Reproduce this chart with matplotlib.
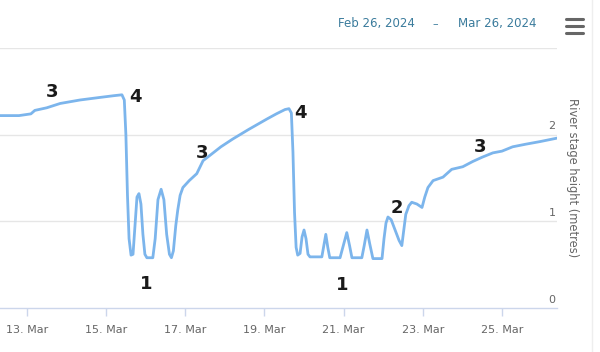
import matplotlib
matplotlib.use("Agg")
import matplotlib.pyplot as plt
import matplotlib.dates as mdates
import pandas as pd
from matplotlib.lines import Line2D

# Day of March 2024 (fractional) and river stage (metres)
days = [12.32, 12.80, 13.10, 13.20, 13.50, 13.84, 14.34, 14.85, 15.20, 15.40,
        15.46, 15.50, 15.54, 15.58, 15.63, 15.68, 15.73, 15.78, 15.83, 15.88,
        15.93, 15.98, 16.03, 16.18, 16.24, 16.31, 16.39, 16.46, 16.53, 16.60,
        16.65, 16.70, 16.76, 16.81, 16.87, 16.94, 17.10, 17.29, 17.45, 17.62,
        17.90, 18.20, 18.60, 19.06, 19.30, 19.52, 19.62, 19.68, 19.72, 19.76,
        19.80, 19.84, 19.90, 19.95, 20.00, 20.05, 20.10, 20.15, 20.45, 20.50,
        20.55, 20.60, 20.65, 20.91, 20.98, 21.08, 21.15, 21.21, 21.46, 21.52,
        21.59, 21.66, 21.74, 21.97, 22.02, 22.07, 22.12, 22.20, 22.30, 22.40,
        22.47, 22.52, 22.57, 22.65, 22.72, 22.85, 22.98, 23.05, 23.13, 23.26,
        23.51, 23.73, 24.01, 24.26, 24.50, 24.77, 25.00, 25.27, 25.60, 25.96,
        26.39]
stage = [2.22, 2.22, 2.24, 2.28, 2.31, 2.36, 2.40, 2.43, 2.45, 2.46,
         2.40, 2.00, 1.30, 0.80, 0.61, 0.62, 0.95, 1.28, 1.32, 1.20,
         0.85, 0.62, 0.58, 0.58, 0.80, 1.25, 1.37, 1.25, 0.85, 0.62,
         0.58, 0.66, 0.95, 1.13, 1.30, 1.39, 1.47, 1.55, 1.70, 1.76,
         1.86, 1.95, 2.06, 2.18, 2.24, 2.29, 2.30, 2.25, 1.80, 1.10,
         0.70, 0.61, 0.63, 0.82, 0.90, 0.80, 0.62, 0.59, 0.59, 0.72,
         0.85, 0.70, 0.58, 0.58, 0.70, 0.87, 0.72, 0.58, 0.58, 0.72,
         0.90, 0.74, 0.57, 0.57, 0.80, 0.98, 1.05, 1.02, 0.90, 0.78,
         0.72, 0.90, 1.08, 1.18, 1.22, 1.20, 1.16, 1.28, 1.39, 1.47,
         1.51, 1.60, 1.63, 1.69, 1.74, 1.79, 1.81, 1.86, 1.89, 1.92,
         1.96]

# Stage annotations (label, day of March, height)
ann_labels = ["3", "4", "1", "3", "4", "1", "2", "3"]
ann_days = [13.63, 15.73, 16.01, 17.42, 19.90, 20.96, 22.35, 24.44]
ann_vals = [2.49, 2.43, 0.28, 1.79, 2.25, 0.26, 1.15, 1.86]

x_tick_days = [13, 15, 17, 19, 21, 23, 25]
y_ticks = [0, 1, 2, 3]
y_tick_labels = ["0", "1", "2"]
x_range_days = [12.32, 26.39]

range_start = "Feb 26, 2024"
range_end = "Mar 26, 2024"
y_title = "River stage height (metres)"

base = pd.Timestamp("2024-03-01")
def to_dt(d):
    return base + pd.to_timedelta(d - 1, unit="D")

xs = [to_dt(d) for d in days]

fig = plt.figure(figsize=(6.0, 3.52), dpi=100)
fig.patch.set_facecolor("white")
ax = fig.add_axes([0.0, 1 - 308 / 352, 557 / 600, (308 - 48) / 352])
ax.set_facecolor("white")

ax.plot(xs, stage, color="#7cb5ec", lw=2.0, solid_joinstyle="round",
        solid_capstyle="round", zorder=3)

ax.set_xlim(to_dt(x_range_days[0]), to_dt(x_range_days[1]))
ax.set_ylim(0, 3)

for v in y_ticks[1:]:
    ax.axhline(v, color="#e6e6e6", lw=1, zorder=1)

for s in ["top", "right", "left"]:
    ax.spines[s].set_visible(False)
ax.spines["bottom"].set_color("#ccd6eb")
ax.spines["bottom"].set_linewidth(1)

ax.set_xticks([to_dt(d) for d in x_tick_days])
ax.xaxis.set_major_formatter(mdates.DateFormatter("%d. %b"))
ax.tick_params(axis="x", colors="#ccd6eb", length=6, width=1, labelcolor="#666666",
               labelsize=8, pad=6)
ax.set_yticks([])

for i, lab in enumerate(y_tick_labels):
    ax.text(0.997, y_ticks[i] + 0.04, lab, transform=ax.get_yaxis_transform(),
            ha="right", va="bottom", fontsize=8, color="#666666")

fig.text(572 / 600, 1 - 178 / 352, y_title, rotation=-90, ha="center", va="center",
         fontsize=8.3, color="#666666")

for lab, d, v in zip(ann_labels, ann_days, ann_vals):
    ax.text(to_dt(d), v, lab, ha="center", va="center", fontsize=13,
            fontweight="bold", color="#1a1a1a", zorder=4)

# header
fig.text(415 / 600, 1 - 24 / 352, range_start, ha="right", va="center",
         fontsize=8.5, color="#3a7b9c")
fig.text(435 / 600, 1 - 24 / 352, "\u2013", ha="center", va="center",
         fontsize=8, color="#3a7b9c")
fig.text(536 / 600, 1 - 24 / 352, range_end, ha="right", va="center",
         fontsize=8.5, color="#3a7b9c")

for yy in [18.5, 25.5, 32.5]:
    fig.add_artist(Line2D([566 / 600, 583 / 600], [1 - yy / 352, 1 - yy / 352],
                          color="#666666", lw=2.2, solid_capstyle="round"))

fig.add_artist(Line2D([592 / 600, 592 / 600], [0, 1], color="#eeeeee", lw=1))

fig.savefig("out.png", dpi=100, facecolor="white")
